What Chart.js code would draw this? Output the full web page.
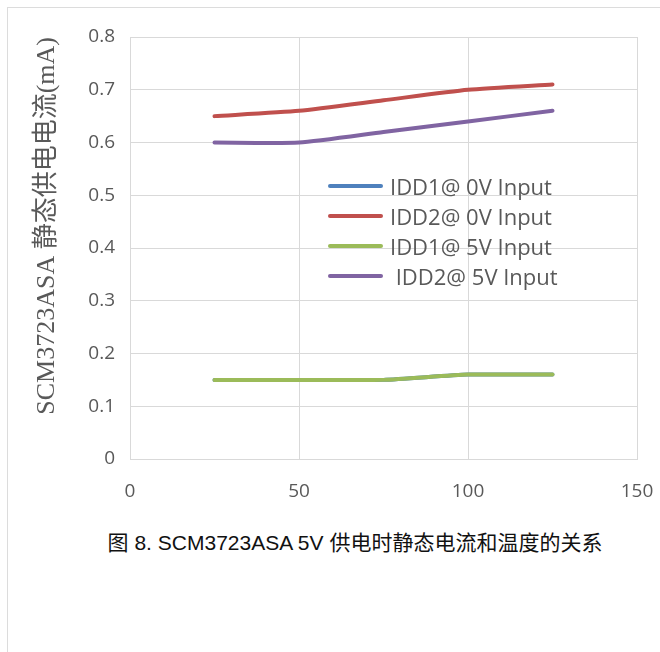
<!DOCTYPE html>
<html lang="zh">
<head>
    <meta charset="UTF-8">
    <title>SCM3723ASA 静态电流和温度</title>
    <style>
        body { margin: 0; background: #fff; overflow: hidden; }
        .frame {
            position: absolute; left: 7px; top: 7px;
            width: 700px; height: 700px;
            border: 1px solid #dcdcdc;
        }
        .chart-box { position: absolute; left: 0; top: 0; width: 660px; height: 500px; }
        .legend {
            position: absolute; left: 328px; top: 171px;
            font-family: "Open Sans", sans-serif; font-size: 22px; color: #595959;
        }
        .legend-row { height: 30px; display: flex; align-items: center; white-space: pre; }
        .legend-line { width: 55px; height: 4px; border-radius: 2px; margin-right: 7px; }
        .caption {
            position: absolute; left: 0; width: 710px; top: 526px; text-align: center;
            font-family: "Liberation Sans", "Noto Sans CJK SC", sans-serif;
            font-size: 21px; color: #111;
        }
    </style>
    <script src="https://cdn.jsdelivr.net/npm/chart.js"></script>
</head>
<body>
    <div class="frame"></div>
    <div class="chart-box"><canvas id="tempChart"></canvas></div>
    <div class="legend" id="legend"></div>
    <div class="caption">图 8. SCM3723ASA 5V 供电时静态电流和温度的关系</div>

    <script>
        // temperature points and supply currents (mA)
        const temps = [25, 50, 75, 100, 125];
        const idd1At0V = [0.15, 0.15, 0.15, 0.16, 0.16];
        const idd2At0V = [0.65, 0.66, 0.68, 0.70, 0.71];
        const idd1At5V = [0.15, 0.15, 0.15, 0.16, 0.16];
        const idd2At5V = [0.60, 0.60, 0.62, 0.64, 0.66];
        const seriesNames = ['IDD1@ 0V Input', 'IDD2@ 0V Input', 'IDD1@ 5V Input', ' IDD2@ 5V Input'];
        const seriesColors = ['#4F81BD', '#C0504D', '#9BBB59', '#8064A2'];
        const xTicks = [0, 50, 100, 150];
        const yTicks = [0, 0.1, 0.2, 0.3, 0.4, 0.5, 0.6, 0.7, 0.8];

        const allSeries = [idd1At0V, idd2At0V, idd1At5V, idd2At5V];
        const datasets = allSeries.map((vals, i) => ({
            label: seriesNames[i],
            data: vals.map((v, j) => ({ x: temps[j], y: v })),
            borderColor: seriesColors[i],
            backgroundColor: seriesColors[i],
            borderWidth: 4,
            borderCapStyle: 'round',
            pointRadius: 0,
            tension: 0.2,
            fill: false,
            order: allSeries.length - i   // later series drawn on top, like Excel
        }));

        const tickFont = { family: 'Open Sans', size: 19 };
        const ctx = document.getElementById('tempChart').getContext('2d');
        const chart = new Chart(ctx, {
            type: 'line',
            data: { datasets },
            options: {
                responsive: true,
                maintainAspectRatio: false,
                animation: false,
                layout: { padding: { top: 37, right: 23, left: 0, bottom: 0 } },
                plugins: { legend: { display: false }, tooltip: { enabled: false } },
                scales: {
                    x: {
                        type: 'linear', min: 0, max: 150,
                        afterBuildTicks: s => { s.ticks = xTicks.map(v => ({ value: v })); },
                        afterFit: s => { s.height = 41; s.paddingRight = 0; s.paddingLeft = 0; },
                        grid: { color: '#d9d9d9', lineWidth: 1, drawTicks: false },
                        border: { color: '#d9d9d9' },
                        ticks: { font: tickFont, color: '#595959', padding: 21, maxRotation: 0 }
                    },
                    y: {
                        min: 0, max: 0.8,
                        afterBuildTicks: s => { s.ticks = yTicks.map(v => ({ value: v })); },
                        afterFit: s => { s.width = 130; },
                        grid: { color: '#d9d9d9', lineWidth: 1, drawTicks: false },
                        border: { color: '#d9d9d9' },
                        ticks: { font: tickFont, color: '#595959', padding: 15,
                                 callback: v => String(Math.round(v * 10) / 10) },
                        title: {
                            display: true, align: 'end',
                            text: 'SCM3723ASA 静态供电电流(mA)',
                            font: { family: '"Liberation Serif", "Noto Sans CJK SC"', size: 26 },
                            color: '#595959',
                            padding: { top: 32 }
                        }
                    }
                }
            }
        });

        // legend built from the datasets
        const legend = document.getElementById('legend');
        chart.data.datasets.forEach(ds => {
            const row = document.createElement('div');
            row.className = 'legend-row';
            const line = document.createElement('span');
            line.className = 'legend-line';
            line.style.background = ds.borderColor;
            row.appendChild(line);
            row.appendChild(document.createTextNode(ds.label));
            legend.appendChild(row);
        });
    </script>
</body>
</html>
